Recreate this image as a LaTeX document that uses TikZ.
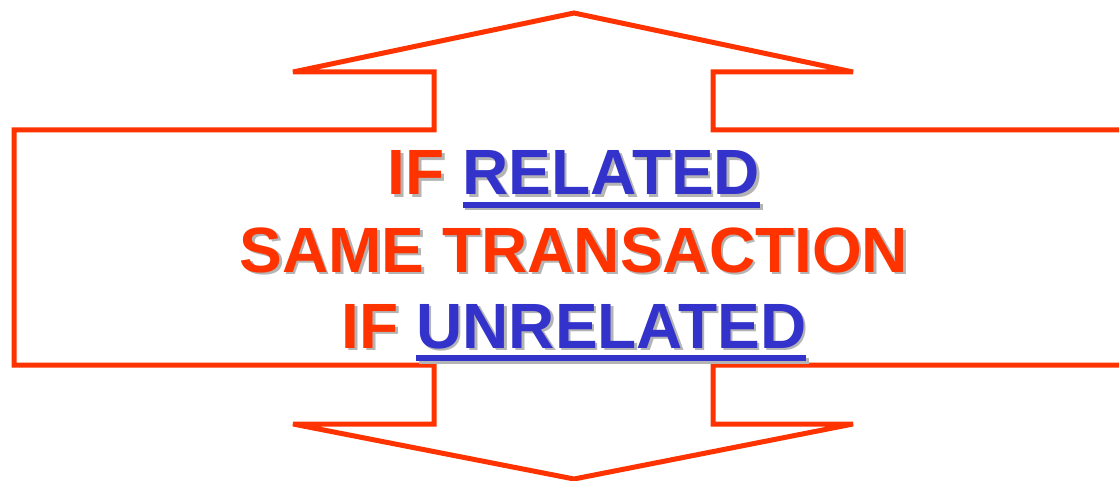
\documentclass[tikz,border=0pt]{standalone}
\usepackage{fontspec}
\setmainfont{Liberation Sans}
\usepackage{xcolor}
\definecolor{arrowred}{HTML}{FF3300}
\definecolor{relblue}{HTML}{3333CC}
\definecolor{shadowgray}{HTML}{B4B4B4}
\tikzset{every node/.style={font=\rmfamily}}
% word with a thick underline in the given colour
\newcommand{\ulword}[2]{\setbox0\hbox{#2}\rlap{\color{#1}\raisebox{-13pt}{\rule{\wd0}{6pt}}}{\color{#1}\box0}}

\begin{document}
\begin{tikzpicture}[
  x=1pt, y=-1pt,
  outline/.style={draw=arrowred, line width=5pt, miter limit=4},
  msgtext/.style={font=\fontsize{64}{77}\selectfont\bfseries, anchor=base, inner sep=0pt}
]
  \clip (0,0) rectangle (1119,481);
  % double arrow across the box
  \draw[outline] (574,13) -- (853,72) -- (713,72) -- (713,130) -- (1135,130)
    -- (1135,365) -- (713,365) -- (713,424) -- (853,424) -- (574,479)
    -- (293,424) -- (434,424) -- (434,365) -- (14,365) -- (14,130)
    -- (434,130) -- (434,72) -- (293,72) -- cycle;
  % shadows
  \node[msgtext, text=shadowgray] (ifrelsh) at (576.5,197.5) {IF \ulword{shadowgray}{RELATED}};
  \node[msgtext, text=shadowgray] (samesh) at (576.5,274.5) {SAME TRANSACTION};
  \node[msgtext, text=shadowgray] (ifunrelsh) at (576.5,350.5) {IF \ulword{shadowgray}{UNRELATED}};
  % text
  \node[msgtext, text=arrowred] (ifrel) at (574,195) {IF \ulword{relblue}{RELATED}};
  \node[msgtext, text=arrowred] (same) at (574,272) {SAME TRANSACTION};
  \node[msgtext, text=arrowred] (ifunrel) at (574,348) {IF \ulword{relblue}{UNRELATED}};
\end{tikzpicture}
\end{document}
